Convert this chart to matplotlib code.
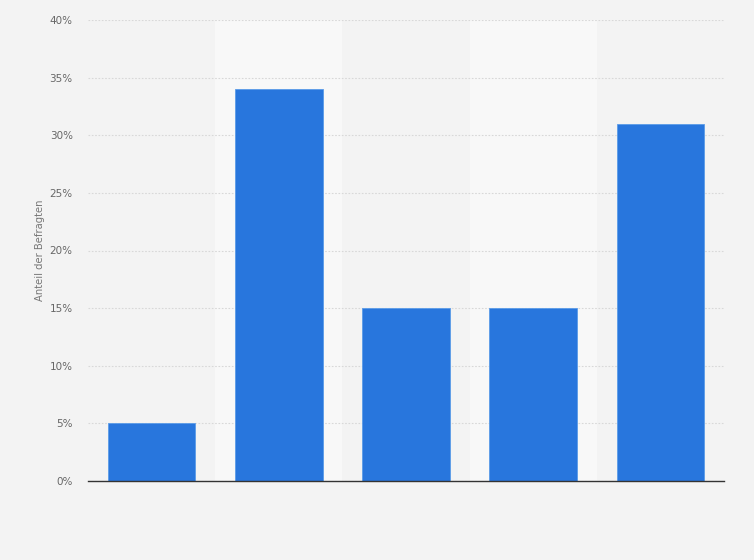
import matplotlib
matplotlib.use("Agg")
import matplotlib.pyplot as plt
from matplotlib.ticker import FuncFormatter

categories = ["A", "B", "C", "D", "E"]
values = [5, 34, 15, 15, 31]
yticks = [0, 5, 10, 15, 20, 25, 30, 35, 40]

fig = plt.figure(figsize=(7.54, 5.6), dpi=100)
fig.patch.set_facecolor("#f3f3f3")
ax = fig.add_axes([88/754, 1-481/560, (724-88)/754, (481-20)/560])
ax.set_facecolor("#f3f3f3")

x = list(range(len(categories)))
for i in x:
    if i % 2 == 1:
        ax.axvspan(i-0.5, i+0.5, color="#f8f8f8", zorder=0, lw=0)

ax.bar(x, values, width=0.69, color="#2876dd", edgecolor="#5a9be8", linewidth=0.6, zorder=3)
ax.set_xlim(-0.5, len(categories)-0.5)
ax.set_ylim(0, 40)
ax.set_yticks(yticks)
ax.yaxis.set_major_formatter(FuncFormatter(lambda v, p: f"{int(v)}%"))
ax.set_xticks([])
ax.grid(axis="y", color="#d8d8d8", linestyle=(0, (1.5, 1.5)), linewidth=0.8, zorder=1)
for s in ["top", "right", "left"]:
    ax.spines[s].set_visible(False)
ax.spines["bottom"].set_color("#333333")
ax.spines["bottom"].set_linewidth(1.0)
ax.spines["bottom"].set_zorder(4)
ax.tick_params(axis="y", length=0, pad=11, labelsize=7.5, labelcolor="#666666")
ax.set_ylabel("Anteil der Befragten", fontsize=7.2, color="#777777", labelpad=3)

fig.savefig("out.png", dpi=100, facecolor=fig.get_facecolor())
